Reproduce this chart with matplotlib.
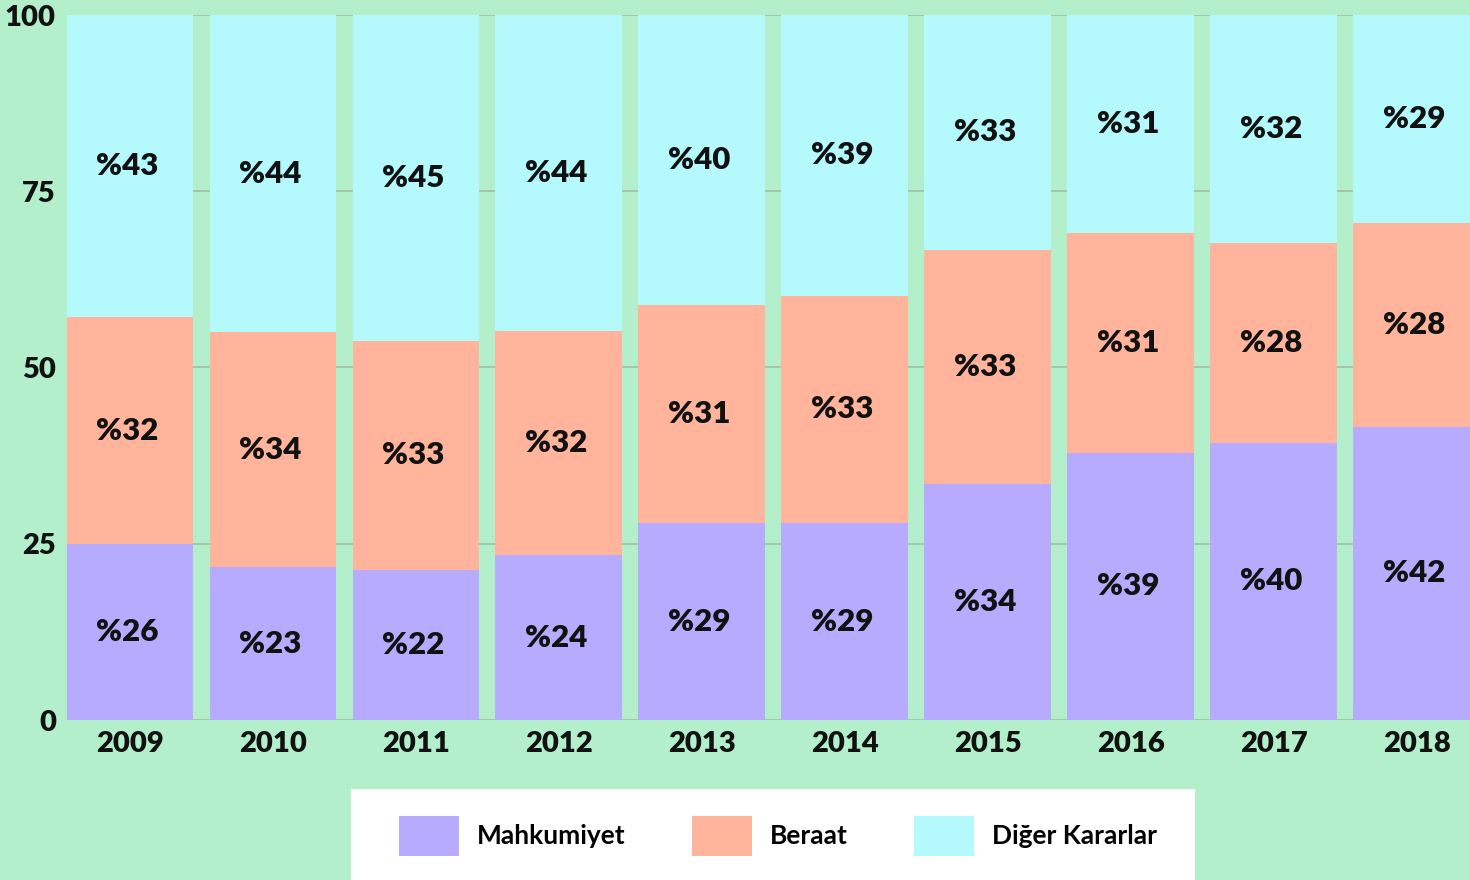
import matplotlib
matplotlib.use("Agg")
import matplotlib.pyplot as plt
import numpy as np
from matplotlib.patches import Rectangle, Patch

years = ["2009", "2010", "2011", "2012", "2013", "2014", "2015", "2016", "2017", "2018"]
mahkumiyet = [25.0, 21.7, 21.3, 23.4, 27.9, 27.9, 33.5, 37.9, 39.3, 41.6]
beraat = [32.1, 33.3, 32.5, 31.8, 30.9, 32.3, 33.2, 31.2, 28.4, 28.9]
diger = [42.9, 45.0, 46.2, 44.8, 41.2, 39.8, 33.3, 30.9, 32.3, 29.5]
lbl_mahkumiyet = [26, 23, 22, 24, 29, 29, 34, 39, 40, 42]
lbl_beraat = [32, 34, 33, 32, 31, 33, 33, 31, 28, 28]
lbl_diger = [43, 44, 45, 44, 40, 39, 33, 31, 32, 29]
series_names = ["Mahkumiyet", "Beraat", "Diğer Kararlar"]
colors = ["#b6abff", "#ffb49b", "#b4fafd"]
bg = "#b3efcb"

plt.rcParams['font.family'] = ['Lato', 'DejaVu Sans']

fig = plt.figure(figsize=(14.7, 8.8), dpi=100, facecolor=bg)
ax = fig.add_axes([67/1470, 1-720/880, 1-67/1470, 705/880])
ax.set_facecolor(bg)

x = np.arange(len(years))
w = 0.888
data = [mahkumiyet, beraat, diger]
labels = [lbl_mahkumiyet, lbl_beraat, lbl_diger]
bottom = np.zeros(len(years))
for vals, lbls, c in zip(data, labels, colors):
    vals = np.array(vals)
    ax.bar(x, vals, w, bottom=bottom, color=c, zorder=2, linewidth=0)
    for xi, b, v, l in zip(x, bottom, vals, lbls):
        ax.text(xi - 0.02, b + v/2, f"%{l}", ha="center", va="center",
                fontsize=22.5, fontweight="heavy", color="#111111", zorder=3)
    bottom += vals

ax.set_xlim(-0.4406, 9.371)
ax.set_ylim(0, 100)
ax.set_yticks([0, 25, 50, 75, 100])
ax.set_xticks(x)
ax.set_xticklabels(years)
ax.tick_params(axis="both", length=0, labelsize=21, colors="#111111")
ax.tick_params(axis="y", pad=8)
ax.tick_params(axis="x", pad=8)
for t in ax.get_xticklabels() + ax.get_yticklabels():
    t.set_fontweight("heavy")
ax.grid(axis="y", color="#9fbfa9", linewidth=1.2, zorder=0)
for s in ax.spines.values():
    s.set_visible(False)

fig.patches.append(Rectangle((351/1470, 0), 844/1470, 91/880, transform=fig.transFigure,
                             facecolor="white", edgecolor="none", zorder=0))
handles = [Patch(facecolor=c, edgecolor="none") for c in colors]
fig.legend(handles, series_names, loc="center", bbox_to_anchor=(778/1470, 1-836/880),
           ncol=3, frameon=False, handlelength=2.27, handleheight=1.95,
           handletextpad=0.7, columnspacing=2.5, prop={"weight": "bold", "size": 19})

fig.savefig("out.png", dpi=100, facecolor=bg)
